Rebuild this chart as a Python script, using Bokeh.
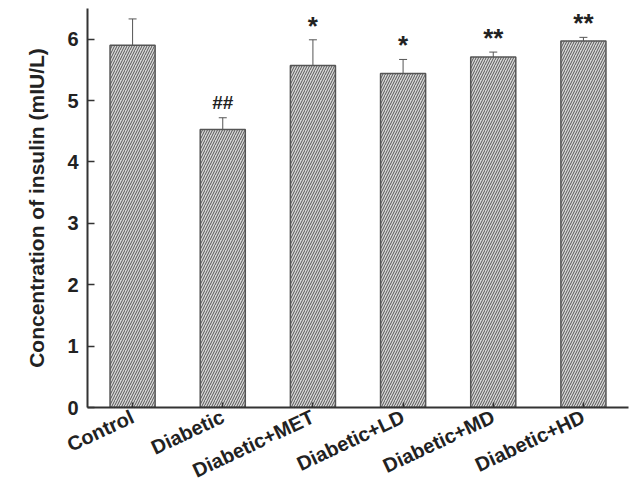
from bokeh.plotting import figure
from bokeh.models import ColumnDataSource, Whisker, TeeHead, FactorRange, LabelSet
from bokeh.embed import file_html
from bokeh.resources import INLINE
from bokeh.core.properties import value

groups = ["Control", "Diabetic", "Diabetic+MET", "Diabetic+LD", "Diabetic+MD", "Diabetic+HD"]
means = [5.90, 4.53, 5.57, 5.44, 5.71, 5.97]
errs = [0.43, 0.19, 0.42, 0.23, 0.08, 0.06]
marks = ["", "##", "*", "*", "**", "**"]

upper = [m + e for m, e in zip(means, errs)]
lower = [m - e for m, e in zip(means, errs)]

src = ColumnDataSource(dict(g=groups, m=means, up=upper, lo=lower, mk=marks))

hash_idx = [i for i, s in enumerate(marks) if s.startswith("#")]
star_idx = [i for i, s in enumerate(marks) if s.startswith("*")]
src_hash = ColumnDataSource(dict(g=[groups[i] for i in hash_idx], up=[upper[i] for i in hash_idx],
                                 mk=[marks[i] for i in hash_idx]))
src_star = ColumnDataSource(dict(g=[groups[i] for i in star_idx], up=[upper[i] for i in star_idx],
                                 mk=[marks[i] for i in star_idx]))

p = figure(x_range=FactorRange(*groups, range_padding=0), y_range=(0, 6.5),
           width=629, height=494, output_backend="svg", toolbar_location=None,
           min_border_left=87, min_border_right=1, min_border_top=8, min_border_bottom=83)
p.outline_line_color = None
p.xgrid.visible = False
p.ygrid.visible = False

p.vbar(x="g", top="m", width=0.5, source=src, fill_color="#d8d8d8",
       hatch_pattern="/", hatch_color="#555555", hatch_scale=5, hatch_weight=1,
       line_color="#555555", line_width=1.5)

w = Whisker(base="g", upper="up", lower="lo", source=src, line_color="#555555", line_width=1,
            upper_head=TeeHead(size=8, line_color="#555555", line_width=1),
            lower_head=TeeHead(size=8, line_color="#555555", line_width=1))
p.add_layout(w)

lab_h = LabelSet(x="g", y="up", text="mk", source=src_hash, text_align="center", text_baseline="middle",
                 y_offset=15, text_font=value("Liberation Sans"), text_font_style="bold",
                 text_font_size="19px", text_color="#222222")
lab_s = LabelSet(x="g", y="up", text="mk", source=src_star, text_align="center", text_baseline="middle",
                 y_offset=14, text_font=value("Liberation Sans"), text_font_style="bold",
                 text_font_size="26px", text_color="#222222")
p.add_layout(lab_h)
p.add_layout(lab_s)

for ax in (p.xaxis, p.yaxis):
    ax.axis_line_color = "#333333"
    ax.axis_line_width = 2
    ax.major_tick_line_color = "#333333"
    ax.major_tick_line_width = 1.5
    ax.major_tick_in = 7
    ax.major_tick_out = 0
    ax.minor_tick_line_color = None
    ax.major_label_text_font = "Liberation Sans"
    ax.major_label_text_color = "#222222"

p.xaxis.major_tick_in = 5
p.xaxis.major_label_text_font_size = "20px"
p.xaxis.major_label_text_font_style = "bold"
p.xaxis.major_label_orientation = 0.44
p.xaxis.major_label_standoff = 8

p.yaxis.major_label_text_font_size = "20px"
p.yaxis.major_label_text_font_style = "bold"
p.yaxis.major_label_standoff = 9
p.yaxis.ticker = [0, 1, 2, 3, 4, 5, 6]
p.yaxis.axis_label = "Concentration of insulin (mIU/L)"
p.yaxis.axis_label_text_font = "Liberation Sans"
p.yaxis.axis_label_text_font_style = "bold"
p.yaxis.axis_label_text_font_size = "21px"
p.yaxis.axis_label_text_color = "#222222"
p.yaxis.axis_label_standoff = 16

open("out.html", "w").write(file_html(p, INLINE))
